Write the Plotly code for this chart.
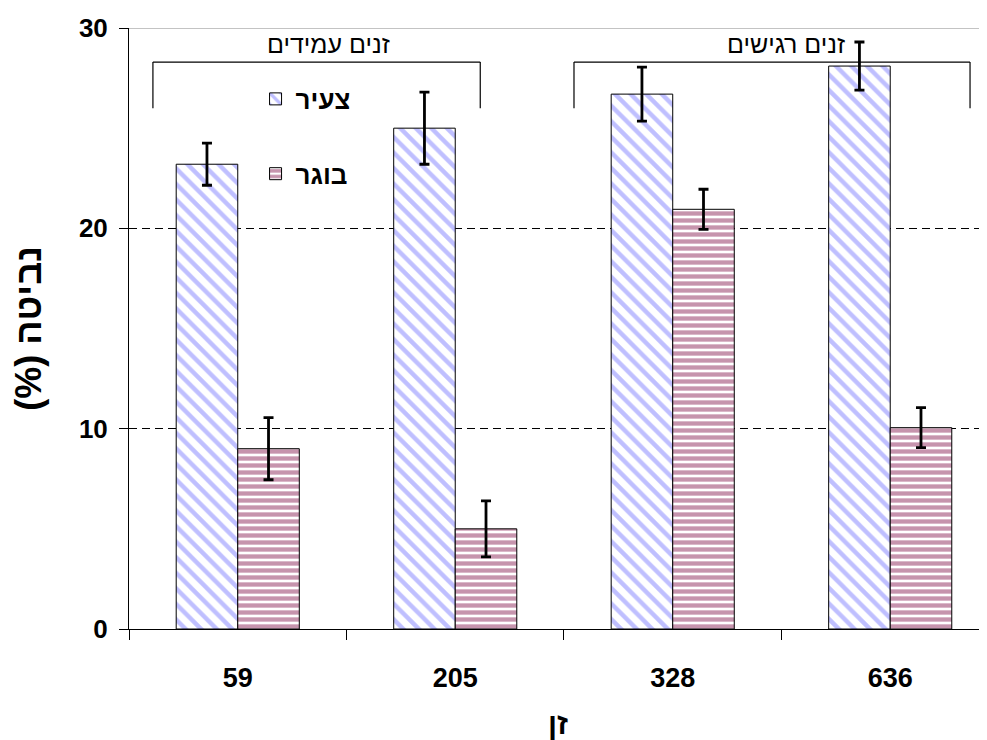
import plotly.graph_objects as go

categories = ["59", "205", "328", "636"]
young = [23.2, 25.0, 26.7, 28.1]
young_err = [1.05, 1.8, 1.35, 1.2]
adult = [9.0, 5.0, 20.95, 10.05]
adult_err = [1.55, 1.4, 1.0, 1.0]
group_labels = ["זנים עמידים", "זנים רגישים"]

FONT = "Liberation Sans, Arial"

fig = go.Figure()
fig.add_trace(go.Bar(
    x=categories, y=young, name="צעיר", legendgroup="a",
    error_y=dict(type="data", array=young_err, color="black", thickness=2.8, width=5),
    marker=dict(color="white", line=dict(color="black", width=1),
                pattern=dict(shape="\\", fgcolor="#8080FF", bgcolor="white", size=11, solidity=0.4)),
))
fig.add_trace(go.Bar(
    x=categories, y=adult, name="בוגר", legendgroup="b",
    error_y=dict(type="data", array=adult_err, color="black", thickness=2.8, width=5),
    marker=dict(color="white", line=dict(color="black", width=1),
                pattern=dict(shape="-", fgcolor="#8E2A5C", bgcolor="white", size=7, solidity=0.62)),
))

# brackets
line = dict(color="black", width=1.2)
for x0, x1 in [(-0.39, 1.115), (1.546, 3.367)]:
    fig.add_shape(type="line", x0=x0, x1=x1, y0=28.3, y1=28.3, xref="x", yref="y", line=line)
    fig.add_shape(type="line", x0=x0, x1=x0, y0=28.3, y1=26.0, xref="x", yref="y", line=line)
    fig.add_shape(type="line", x0=x1, x1=x1, y0=28.3, y1=26.0, xref="x", yref="y", line=line)
fig.add_annotation(x=0.415, y=29.2, xref="x", yref="y", text=group_labels[0], showarrow=False,
                   font=dict(size=25, color="black", family=FONT))
fig.add_annotation(x=2.52, y=29.2, xref="x", yref="y", text=group_labels[1], showarrow=False,
                   font=dict(size=25, color="black", family=FONT))
# top frame line
fig.add_shape(type="line", x0=0, x1=1, y0=30, y1=30, xref="paper", yref="y",
              line=dict(color="#888888", width=1))

fig.update_layout(
    width=979, height=732,
    margin=dict(l=121, r=0, t=20, b=111),
    plot_bgcolor="white", paper_bgcolor="white",
    barmode="group", bargap=0.434, bargroupgap=0,
    font=dict(family=FONT, color="black"),
    showlegend=True,
    legend=dict(x=0.1475, y=0.921, xanchor="left", yanchor="top",
                font=dict(size=26, family=FONT, color="black", weight="bold"),
                tracegroupgap=38, bgcolor="rgba(0,0,0,0)", itemwidth=30),
    xaxis=dict(
        range=[-0.5, 3.445], type="category",
        showline=True, linecolor="black", linewidth=1,
        ticks="outside", tickson="boundaries", ticklen=10, tickcolor="black",
        ticklabelstandoff=25,
        tickfont=dict(size=27, family=FONT, color="black", weight="bold"),
        title=dict(text="זן", font=dict(size=30, weight="bold", family=FONT), standoff=22),
        showgrid=False,
    ),
    yaxis=dict(
        range=[0, 30], tickvals=[0, 10, 20, 30],
        showline=True, linecolor="black", linewidth=1,
        ticks="outside", ticklen=9, tickcolor="black",
        ticklabelstandoff=6,
        tickfont=dict(size=26, weight="bold", family=FONT, color="black"),
        showgrid=True, gridcolor="black", gridwidth=1, griddash="8px,5px",
        title=dict(text="(%) נביטה", font=dict(size=36, weight="bold", family=FONT), standoff=26),
        zeroline=False,
    ),
)

fig.write_html("out.html")
